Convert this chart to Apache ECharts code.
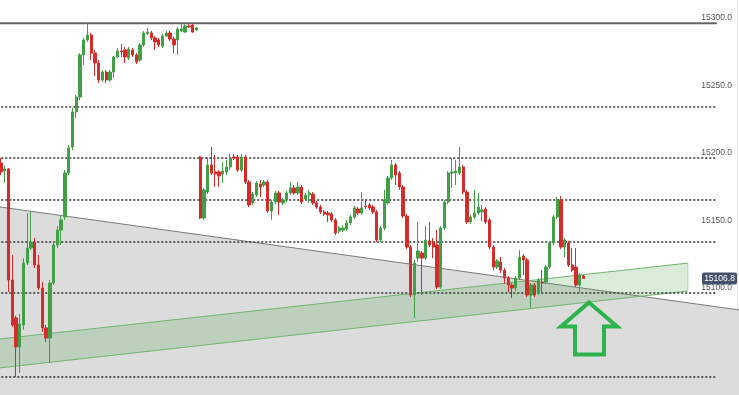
<!DOCTYPE html>
<html><head><meta charset="utf-8">
<script src="https://cdn.jsdelivr.net/npm/echarts@6/dist/echarts.min.js"></script>
<style>html,body{margin:0;padding:0;background:#fff}#c{width:739px;height:395px}</style>
</head><body><div id="c"></div>
<script>
// ---- data: [open, close, low, high] ----
const ohlc = [
[15192.4,15185.8,15183.5,15196.1],[15186.5,15188.0,15177.6,15190.2],[15188.0,15105.6,15096.7,15188.7],[15105.6,15072.3,15070.8,15124.2],
[15077.5,15056.0,15033.7,15079.0],[15056.0,15073.0,15036.7,15080.4],[15072.3,15118.2,15068.6,15121.9],[15118.2,15129.4,15116.8,15155.3],
[15129.4,15133.8,15127.9,15156.1],[15133.8,15116.8,15114.5,15136.8],[15116.8,15099.7,15098.2,15124.2],[15099.7,15070.1,15067.1,15104.2],
[15070.1,15062.6,15059.7,15072.3],[15062.6,15103.4,15044.1,15105.6],[15103.4,15131.6,15101.9,15133.1],[15131.6,15142.7,15129.4,15145.7],
[15142.7,15150.2,15131.6,15153.9],[15152.4,15185.0,15150.2,15187.2],[15185.0,15203.6,15183.5,15205.8],[15204.3,15230.3,15202.1,15233.2],
[15230.3,15241.4,15225.8,15242.9],[15241.4,15272.6,15239.2,15274.0],[15272.6,15283.7,15265.1,15285.2],[15283.7,15287.4,15282.2,15296.3],
[15287.4,15274.0,15268.8,15288.9],[15274.0,15266.6,15257.0,15276.3],[15266.6,15254.0,15251.8,15268.8],[15254.0,15259.9,15252.5,15261.4],
[15259.9,15254.0,15251.8,15261.4],[15254.0,15259.9,15252.5,15261.4],[15259.9,15271.1,15255.5,15271.8],[15271.1,15275.5,15270.3,15277.7],
[15275.5,15274.8,15271.1,15280.7],[15276.3,15271.1,15266.6,15278.5],[15270.3,15277.0,15268.8,15278.5],[15276.3,15272.6,15271.1,15277.7],
[15272.6,15267.4,15265.9,15274.0],[15268.8,15280.0,15267.4,15281.5],[15280.0,15288.9,15278.5,15290.4],[15288.5,15289.6,15287.4,15292.6],
[15288.9,15285.2,15283.7,15290.4],[15285.2,15282.2,15276.3,15286.6],[15283.7,15280.0,15278.5,15285.2],[15279.2,15286.6,15277.7,15288.1],
[15286.6,15288.9,15285.9,15290.4],[15288.9,15284.4,15282.9,15290.4],[15284.4,15280.0,15274.0,15285.9],[15283.7,15291.8,15272.6,15293.3],
[15290.4,15291.8,15289.6,15295.5],[15289.6,15294.1,15288.9,15295.5],[15294.1,15293.3,15292.6,15295.5],[15294.8,15289.6,15288.9,15295.5],
[15291.1,15292.6,15290.4,15293.3],
[15196.9,15151.6,15150.9,15197.6],[15151.6,15172.4,15150.2,15173.9],[15170.9,15191.0,15169.4,15196.9],[15191.0,15185.0,15183.5,15204.3],
[15185.8,15184.3,15174.6,15198.4],[15185.8,15182.8,15174.6,15187.2],[15184.3,15186.5,15177.6,15193.2],[15185.8,15189.5,15183.5,15194.7],
[15189.5,15196.1,15187.2,15199.1],[15196.9,15196.1,15194.7,15199.1],[15196.9,15187.2,15185.8,15198.4],[15187.2,15196.9,15185.8,15199.1],
[15196.9,15178.3,15176.8,15198.4],[15178.3,15161.3,15159.8,15179.8],[15162.8,15169.4,15161.3,15170.9],[15168.7,15177.6,15167.2,15179.1],
[15176.8,15174.6,15167.2,15179.8],[15176.1,15178.3,15174.6,15179.8],[15178.3,15156.8,15155.3,15179.8],[15156.8,15163.5,15150.2,15165.0],
[15163.5,15170.2,15162.0,15171.7],[15170.2,15163.5,15153.9,15171.7],[15162.8,15165.0,15161.3,15166.5],[15165.0,15170.2,15163.5,15171.7],
[15170.2,15173.9,15168.7,15178.3],[15173.9,15170.2,15168.7,15176.1],[15170.2,15174.6,15168.7,15178.3],[15174.6,15163.5,15162.0,15176.1],
[15165.7,15168.7,15164.2,15170.2],[15168.7,15170.2,15162.8,15172.4],[15169.4,15162.8,15161.3,15170.9],[15162.8,15159.8,15158.3,15164.2],
[15159.8,15156.1,15154.6,15161.3],[15156.1,15154.6,15153.1,15157.6],[15155.3,15153.9,15148.7,15156.8],[15154.6,15150.2,15148.7,15156.1],
[15150.2,15140.5,15139.0,15151.6],[15142.0,15144.2,15140.5,15145.7],[15142.7,15144.2,15141.2,15146.4],[15143.5,15148.0,15142.0,15150.2],
[15148.0,15152.4,15146.4,15153.9],[15152.4,15159.1,15150.9,15160.5],[15158.3,15155.3,15153.9,15159.8],[15155.3,15159.1,15153.9,15170.9],
[15160.5,15160.1,15158.3,15165.0],[15161.3,15159.1,15157.6,15162.8],[15159.8,15156.1,15154.6,15161.3],[15156.1,15135.3,15133.8,15157.6],
[15135.3,15144.2,15133.8,15145.7],[15144.2,15165.0,15142.7,15172.4],[15162.8,15181.3,15161.3,15182.8],[15181.3,15191.0,15179.8,15194.7],
[15191.0,15183.5,15176.1,15192.4],[15185.0,15174.6,15172.4,15186.5],[15174.6,15153.1,15151.6,15176.1],[15153.1,15130.1,15128.6,15154.6],
[15130.1,15094.5,15093.0,15131.6],[15094.5,15118.2,15077.5,15120.5],[15121.9,15127.2,15119.0,15148.7],[15125.7,15121.9,15094.5,15127.2],
[15121.9,15135.3,15120.5,15145.7],[15134.6,15131.6,15130.1,15148.7],[15133.1,15130.1,15121.9,15136.8],[15131.6,15100.4,15098.9,15142.7],
[15100.4,15144.2,15098.9,15145.7],[15144.2,15163.5,15142.7,15165.0],[15163.5,15185.0,15162.0,15186.5],[15185.0,15185.8,15173.9,15196.1],
[15185.0,15186.5,15176.1,15194.7],[15185.0,15189.5,15183.5,15204.3],[15189.5,15170.9,15169.4,15191.0],[15170.9,15148.7,15147.2,15172.4],
[15148.7,15152.4,15147.2,15153.9],[15152.4,15155.3,15150.9,15172.4],[15155.3,15159.8,15153.9,15170.2],[15156.1,15157.6,15149.4,15161.3],
[15158.3,15148.7,15147.2,15159.8],[15150.2,15130.1,15128.6,15151.6],[15130.1,15115.3,15113.0,15131.6],[15115.3,15119.7,15113.8,15121.2],
[15119.0,15113.0,15110.8,15122.7],[15113.0,15107.1,15102.7,15114.5],[15107.1,15101.9,15096.7,15108.6],[15101.9,15099.7,15092.3,15103.4],
[15099.7,15107.1,15097.5,15108.6],[15107.1,15122.7,15105.6,15127.9],[15123.4,15120.5,15109.4,15124.9],[15120.5,15094.5,15093.0,15121.9],
[15094.5,15101.9,15084.9,15103.4],[15101.9,15094.5,15093.0,15103.4],[15096.0,15105.6,15094.5,15107.1],[15104.2,15103.4,15096.7,15113.0],
[15104.2,15115.3,15102.7,15116.8],[15115.3,15133.1,15113.8,15134.6],[15133.1,15152.4,15131.6,15153.9],[15152.4,15165.0,15150.9,15167.2],
[15165.0,15130.1,15128.6,15167.9],[15130.1,15135.3,15122.7,15136.8],[15133.1,15116.8,15115.3,15134.6],[15116.8,15113.0,15111.5,15129.4],
[15115.3,15101.9,15100.4,15129.4],[15101.9,15109.4,15096.7,15110.8],[15108.6,15106.8,15106.4,15109.4]
];
const dottedLevels = [15234.0, 15196.1, 15165.0, 15133.8, 15096.0, 15033.7];
const solidLevels = [15296.1];
const lastPrice = 15106.8;
// annotation geometry in [bar index, price]
const triangleEdge = [[-1, 15160.1], [197, 15083.2]];
const channelUpper = [[-1, 15061.7], [182.8, 15118.2]];
const channelLower = [[-1, 15040.2], [182.8, 15097.5]];
const arrowPts = [[156.47,15089.0],[163.92,15071.2],[160.46,15071.2],[160.46,15050.4],[152.74,15050.4],[152.74,15071.2],[149.01,15071.2]];
const levelStartIdx = -1, levelEndIdx = 190.5;
const SLOTS = 197;
const categories = Array.from({length: SLOTS}, (_, i) => 'b' + i);
const Y_MIN = 15000, Y_MAX = 15350;

const chart = echarts.init(document.getElementById('c'), null, {renderer: 'canvas'});
const font = 'Liberation Sans, Arial, sans-serif';

function pts(api, arr){ return arr.map(p => api.coord(p)); }

chart.setOption({
  animation: false,
  backgroundColor: '#ffffff',
  grid: {left: -0.88, top: -49.4, width: 740.33, height: 471.8, outerBoundsMode: 'none', containLabel: false},
  xAxis: [
    {type: 'category', data: categories, show: false, boundaryGap: true},
    {type: 'value', min: -0.5, max: SLOTS - 0.5, show: false}
  ],
  yAxis: {
    type: 'value', min: Y_MIN, max: Y_MAX, interval: 50, position: 'right', offset: -2.5,
    axisLine: {show: true, onZero: false, lineStyle: {color: '#e2e2e2', width: 1}},
    axisTick: {show: false}, splitLine: {show: false},
    axisLabel: {inside: true, margin: 5, fontSize: 8.5, color: '#555', fontFamily: font,
      formatter: v => v.toFixed(1)}
  },
  series: [
    {
      type: 'custom', xAxisIndex: 1, yAxisIndex: 0, z: 1, clip: true, data: [0],
      renderItem: (params, api) => {
        const top = pts(api, triangleEdge);
        const bottom = pts(api, [[triangleEdge[1][0], Y_MIN], [triangleEdge[0][0], Y_MIN]]);
        return {type: 'group', children: [
          {type: 'polygon', shape: {points: top.concat(bottom)}, style: {fill: '#dcdcdc'}},
          {type: 'polyline', shape: {points: top}, style: {stroke: '#7a7a7a', lineWidth: 1, fill: null}}
        ]};
      }
    },
    {
      type: 'custom', xAxisIndex: 1, yAxisIndex: 0, z: 2, clip: true, data: [0],
      renderItem: (params, api) => {
        const up = pts(api, channelUpper), lo = pts(api, channelLower);
        return {type: 'group', children: [
          {type: 'polygon', shape: {points: [up[0], up[1], lo[1], lo[0]]}, style: {fill: 'rgba(80,170,80,0.22)'}},
          {type: 'polyline', shape: {points: up}, style: {stroke: '#6fb56f', lineWidth: 1, fill: null}},
          {type: 'polyline', shape: {points: lo}, style: {stroke: '#6fb56f', lineWidth: 1, fill: null}},
          {type: 'line', shape: {x1: up[1][0], y1: up[1][1], x2: lo[1][0], y2: lo[1][1]}, style: {stroke: 'rgba(111,181,111,0.5)', lineWidth: 1}}
        ]};
      }
    },
    {
      type: 'custom', xAxisIndex: 1, yAxisIndex: 0, z: 3, clip: true,
      data: dottedLevels.map(v => [v, 0]).concat(solidLevels.map(v => [v, 1])),
      renderItem: (params, api) => {
        const p = api.value(0), solid = api.value(1) === 1;
        const a = api.coord([levelStartIdx, p]), b = api.coord([levelEndIdx, p]);
        return {type: 'line', shape: {x1: a[0], y1: a[1], x2: b[0], y2: b[1]},
          style: solid ? {stroke: '#666', lineWidth: 2} : {stroke: '#3a3a3a', lineWidth: 1.6, lineDash: [2, 2]}};
      }
    },
    {
      type: 'candlestick', xAxisIndex: 0, yAxisIndex: 0, z: 5, data: ohlc, barWidth: 2.8,
      itemStyle: {color: '#41a045', color0: '#d62b2b', borderColor: '#41a045', borderColor0: '#d62b2b', borderWidth: 1}
    },
    {
      type: 'custom', xAxisIndex: 1, yAxisIndex: 0, z: 6, clip: true, data: [0],
      renderItem: (params, api) => ({type: 'polygon', shape: {points: pts(api, arrowPts)},
        style: {fill: null, stroke: '#2db34b', lineWidth: 4, lineJoin: 'miter'}})
    }
  ]
});

const yPix = chart.convertToPixel({yAxisIndex: 0}, lastPrice);
chart.setOption({graphic: [
  {type: 'rect', z: 100, shape: {x: 702, y: yPix - 6, width: 35, height: 12, r: 2}, style: {fill: '#46526b'}},
  {type: 'text', z: 101, x: 719.5, y: yPix, style: {text: lastPrice.toFixed(1), fill: '#fff', fontSize: 8.5, fontFamily: font, align: 'center', verticalAlign: 'middle'}}
]});
</script></body></html>
